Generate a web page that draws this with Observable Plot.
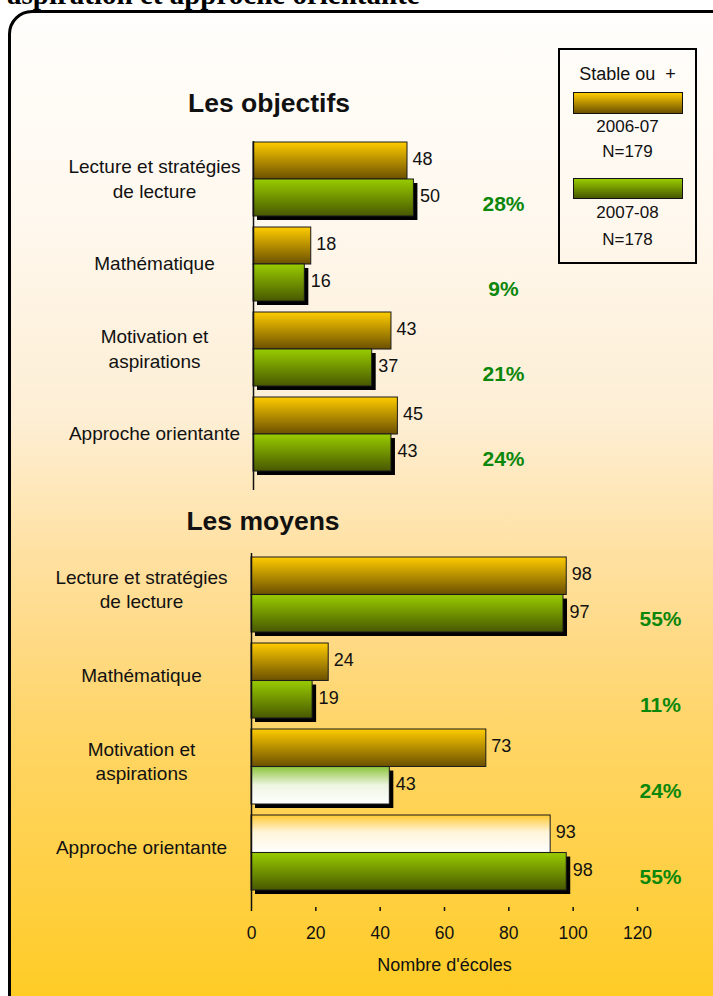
<!DOCTYPE html>
<html>
<head>
<meta charset="utf-8">
<script src="https://cdn.jsdelivr.net/npm/d3@7"></script>
<script src="https://cdn.jsdelivr.net/npm/@observablehq/plot@0.6"></script>
<style>
  body { margin: 0; background: #fff; }
  #root { position: relative; width: 713px; height: 996px; overflow: hidden; font-family: "Liberation Sans", Arial, sans-serif; color: #111; }
  #panel { position: absolute; left: 8px; top: 10px; width: 740px; height: 1020px; box-sizing: border-box; border: 3px solid #000; border-radius: 24px;
    background: linear-gradient(to bottom, #fffefc 0%, #fff8ee 20%, #fdeed4 40%, #fee6b6 48%, #ffe09f 54%, #ffda85 62%, #ffd566 71%, #ffcf3e 88%, #ffcb1c 100%); }
  #toptitle { position: absolute; left: 7px; top: -20px; font: bold 29px "Liberation Serif", "Times New Roman", serif; line-height: 29px; white-space: nowrap; color: #000; }
  .section { position: absolute; width: 300px; text-align: center; font-weight: bold; font-size: 26.5px; line-height: 30px; }
  #legend { position: absolute; left: 558px; top: 48px; width: 139px; height: 216px; box-sizing: border-box; border: 2px solid #000; }
  #legend .t { position: absolute; left: 0; width: 135px; text-align: center; font-size: 17px; line-height: 20px; white-space: pre; }
  #legend .t.h { font-size: 18px; }
  #legend .sw { position: absolute; left: 13px; width: 110px; box-sizing: border-box; border: 1px solid #111; }
  .plot { position: absolute; left: 0; }
</style>
</head>
<body>
<div id="root">
  <div id="toptitle">aspiration et approche orientante</div>
  <div id="panel"></div>
  <div class="section" id="t1" style="left:119px; top:88px;"></div>
  <div class="section" id="t2" style="left:113px; top:506px;"></div>
  <div id="legend"></div>
  <div class="plot" id="p1" style="top:130px;"></div>
  <div class="plot" id="p2" style="top:545px;"></div>
</div>
<script>
// ---------- data ----------
const sectionTitles = ["Les objectifs", "Les moyens"];
const categories = ["Lecture et stratégies de lecture", "Mathématique", "Motivation et aspirations", "Approche orientante"];
const categoryTickLabels = ["Lecture et stratégies\nde lecture", "Mathématique", "Motivation et\naspirations", "Approche orientante"];
const series = ["2006-07", "2007-08"];
const seriesN = [179, 178];
const legendTitle = "Stable ou  +";

const objectifs2006 = [48, 18, 43, 45];
const objectifs2007 = [50, 16, 37, 43];
const objectifsPct = ["28%", "9%", "21%", "24%"];

const moyens2006 = [98, 24, 73, 93];
const moyens2007 = [97, 19, 43, 98];
const moyensPct = ["55%", "11%", "24%", "55%"];

const xTicks = [0, 20, 40, 60, 80, 100, 120];
const xLabel = "Nombre d'écoles";

// bars drawn with the pale (fading to white) fill in the reference
const paleBars = [
  { section: "Les moyens", category: "Motivation et aspirations", serie: "2007-08" },
  { section: "Les moyens", category: "Approche orientante", serie: "2006-07" }
];

// ---------- helpers ----------
const tickLabel = new Map(categories.map((c, i) => [c, categoryTickLabels[i]]));
const isPale = (section, category, serie) => paleBars.some(p => p.section === section && p.category === category && p.serie === serie);

function rowsFor(section, a, b, pct) {
  return categories.map((c, i) => ({
    category: c, a: a[i], b: b[i], pct: pct[i],
    paleA: isPale(section, c, series[0]), paleB: isPale(section, c, series[1])
  }));
}

function defsMark(p) {
  return () => {
    const d = d3.create("svg:defs");
    const grad = (id, stops) => {
      const g = d.append("linearGradient").attr("id", p + id).attr("x1", 0).attr("y1", 0).attr("x2", 0).attr("y2", 1);
      stops.forEach(([o, c]) => g.append("stop").attr("offset", o).attr("stop-color", c));
    };
    grad("Y", [["0%", "#ffcc00"], ["100%", "#6b5000"]]);
    grad("G", [["0%", "#99cc00"], ["100%", "#485800"]]);
    grad("YP", [["0%", "#ffc830"], ["45%", "#fff4d8"], ["100%", "#ffffff"]]);
    grad("GP", [["0%", "#8cc43a"], ["50%", "#eef5e2"], ["100%", "#ffffff"]]);
    return d.node();
  };
}

const PAD = 0.13;
const FONT = "Liberation Sans, Arial, sans-serif";

function sectionPlot(cfg) {
  const { rows, p, marginLeft, marginRight, height, marginTop, marginBottom, yRange, labelDx, labelDy, pctDx, pctDy, withAxis } = cfg;
  const bw = (yRange[1] - yRange[0]) * (1 - PAD) / (categories.length - PAD);
  const half = bw / 2;
  const barStroke = { stroke: "#1a1a1a", strokeWidth: 1 };
  const marks = [
    defsMark(p),
    Plot.barX(rows.filter(d => !d.paleA), { x: "a", y: "category", insetBottom: half, fill: `url(#${p}Y)`, ...barStroke }),
    Plot.barX(rows.filter(d => d.paleA), { x: "a", y: "category", insetBottom: half, fill: `url(#${p}YP)`, ...barStroke }),
    Plot.barX(rows, { x: "b", y: "category", insetTop: half, fill: "#000", dx: 4, dy: 4 }),
    Plot.barX(rows.filter(d => !d.paleB), { x: "b", y: "category", insetTop: half, fill: `url(#${p}G)`, ...barStroke }),
    Plot.barX(rows.filter(d => d.paleB), { x: "b", y: "category", insetTop: half, fill: `url(#${p}GP)`, ...barStroke }),
    Plot.ruleX([0], { stroke: "#111", strokeWidth: 1.5 }),
    Plot.text(rows, { x: "a", y: "category", text: d => String(d.a), dx: 5, dy: -half / 2 - 2, textAnchor: "start", fontSize: 18, fill: "#111" }),
    Plot.text(rows, { x: "b", y: "category", text: d => String(d.b), dx: 6, dy: half / 2 - 2, textAnchor: "start", fontSize: 18, fill: "#111" }),
    Plot.text(rows, { y: "category", text: "pct", frameAnchor: "right", dx: pctDx, dy: pctDy, textAnchor: "middle", fontWeight: "bold", fontSize: 21, fill: "#0b870b" }),
    Plot.axisY({ tickSize: 0, tickPadding: 0, textAnchor: "middle", dx: labelDx, dy: labelDy, fontSize: 19, lineHeight: 1.3, tickFormat: c => tickLabel.get(c), label: null, fill: "#111" })
  ];
  if (withAxis) {
    marks.push(Plot.axisX({ ticks: xTicks, tickSize: 4, tickPadding: 15, fontSize: 17.5, label: null, line: true, stroke: "#111", fill: "#111", strokeWidth: 1.5 }));
    marks.push(Plot.text([xLabel], { frameAnchor: "bottom", dy: 63, fontSize: 18, fill: "#111" }));
  }
  return Plot.plot({
    width: 713, height, marginLeft, marginRight, marginTop, marginBottom,
    style: { fontFamily: FONT, background: "transparent", overflow: "visible", color: "#111" },
    x: { domain: [0, 120], axis: withAxis ? undefined : null },
    y: { type: "band", domain: categories, range: yRange, paddingInner: PAD, paddingOuter: 0 },
    marks
  });
}

// ---------- render ----------
document.getElementById("t1").textContent = sectionTitles[0];
document.getElementById("t2").textContent = sectionTitles[1];

const legend = document.getElementById("legend");
const addLegend = (cls, top, content, extra) => {
  const el = document.createElement("div");
  el.className = cls; el.style.top = top + "px";
  if (content != null) el.textContent = content;
  if (extra) Object.assign(el.style, extra);
  legend.appendChild(el);
};
addLegend("t h", 14, legendTitle);
addLegend("sw", 42, null, { height: "22px", background: "linear-gradient(to bottom, #ffcc00, #6b5000)" });
addLegend("t", 67, series[0]);
addLegend("t", 92, "N=" + seriesN[0]);
addLegend("sw", 128, null, { height: "21px", background: "linear-gradient(to bottom, #99cc00, #485800)" });
addLegend("t", 153, series[1]);
addLegend("t", 180, "N=" + seriesN[1]);

document.getElementById("p1").appendChild(sectionPlot({
  rows: rowsFor(sectionTitles[0], objectifs2006, objectifs2007, objectifsPct), p: "s1",
  marginLeft: 253, marginRight: 75, height: 365, marginTop: 11, marginBottom: 5, yRange: [12, 341],
  labelDx: -99, labelDy: -2, pctDx: -135, pctDy: 25, withAxis: false
}));
document.getElementById("p2").appendChild(sectionPlot({
  rows: rowsFor(sectionTitles[1], moyens2006, moyens2007, moyensPct), p: "s2",
  marginLeft: 251, marginRight: 76, height: 440, marginTop: 8, marginBottom: 78, yRange: [11, 345],
  labelDx: -110, labelDy: -7, pctDx: 23, pctDy: 24, withAxis: true
}));
</script>
</body>
</html>
